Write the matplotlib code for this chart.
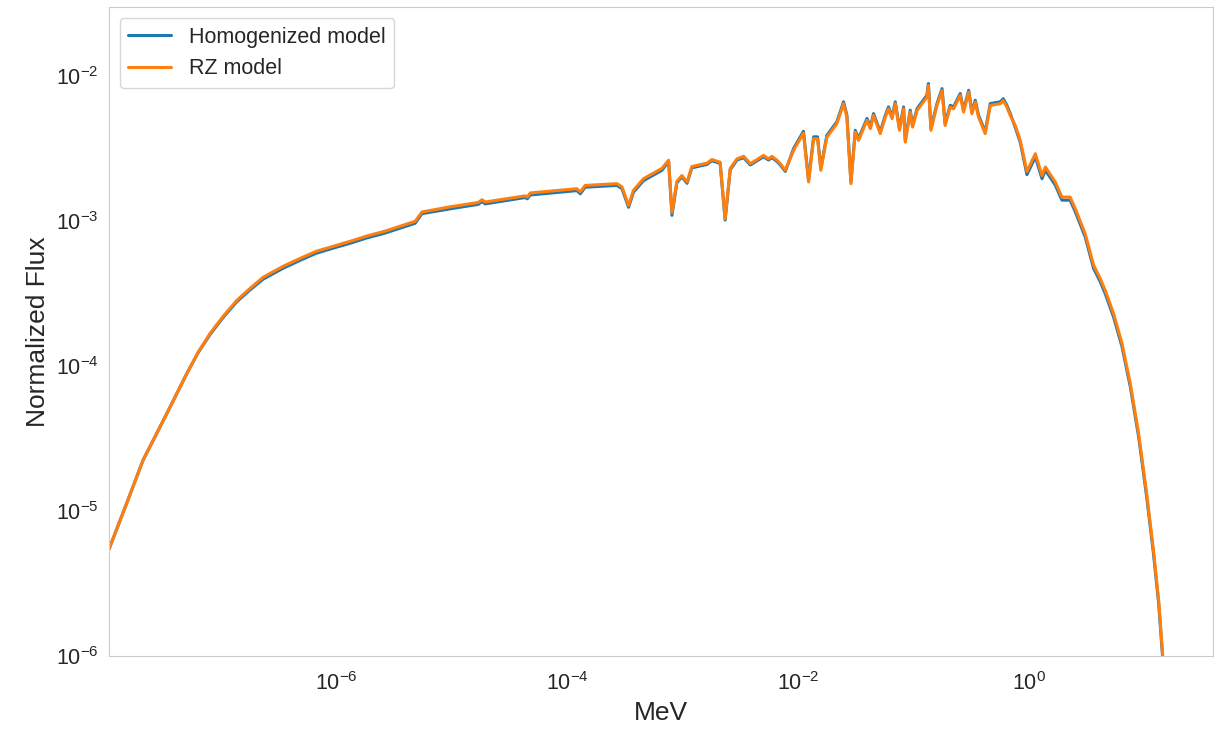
"""Normalized neutron flux spectrum: homogenized vs RZ model."""
import matplotlib
matplotlib.use('Agg')
import matplotlib.pyplot as plt
import seaborn as sns

# energy grid (MeV)
energy = [
    1.08e-8, 1.54e-8, 2.13e-8, 3.43e-8, 5.11e-8, 6.38e-8, 8.11e-8, 1.05e-7, 1.38e-7, 1.80e-7,
    2.33e-7, 3.48e-7, 4.89e-7, 6.71e-7, 9.42e-7, 1.32e-6, 1.86e-6, 2.61e-6, 3.58e-6, 4.83e-6,
    5.52e-6, 9.71e-6, 1.70e-5, 1.83e-5, 1.95e-5, 4.34e-5, 4.51e-5,
    4.79e-5, 1.21e-4, 1.30e-4, 1.43e-4, 2.70e-4, 2.98e-4, 3.40e-4, 3.75e-4, 4.58e-4, 6.61e-4,
    7.55e-4, 8.07e-4, 8.91e-4, 9.84e-4, 1.09e-3, 1.20e-3, 1.62e-3, 1.79e-3, 2.11e-3, 2.33e-3,
    2.58e-3, 2.95e-3, 3.37e-3, 3.85e-3, 5.01e-3, 5.53e-3, 5.92e-3, 6.55e-3, 7.00e-3, 7.73e-3,
    9.12e-3, 1.11e-2, 1.23e-2, 1.36e-2, 1.47e-2, 1.57e-2, 1.77e-2, 2.16e-2, 2.47e-2, 2.64e-2,
    2.86e-2, 3.12e-2, 3.33e-2, 3.94e-2, 4.21e-2, 4.49e-2, 5.13e-2, 5.68e-2, 6.05e-2, 6.49e-2,
    6.92e-2, 7.53e-2, 8.17e-2, 8.45e-2, 9.33e-2, 9.77e-2, 0.107, 0.130, 0.134, 0.141,
    0.159, 0.176, 0.187, 0.207, 0.221, 0.253, 0.270, 0.299, 0.319, 0.341,
    0.364, 0.416, 0.460, 0.561, 0.596, 0.641, 0.685, 0.757, 0.836, 0.955,
    1.13, 1.29, 1.38, 1.68, 1.92, 2.26, 2.51, 3.05, 3.61, 4.12,
    4.55, 5.37, 6.35, 7.50, 8.85, 10.4, 11.9, 13.2, 14.3, 15.3,
    39.0,
]

flux_homog = [
    5.47e-6, 1.14e-5, 2.25e-5, 4.74e-5, 8.95e-5, 1.24e-4, 1.66e-4, 2.17e-4, 2.79e-4, 3.37e-4,
    3.99e-4, 4.75e-4, 5.39e-4, 6.02e-4, 6.53e-4, 7.06e-4, 7.70e-4, 8.27e-4, 8.97e-4, 9.70e-4,
    1.13e-3, 1.22e-3, 1.31e-3, 1.37e-3, 1.32e-3, 1.46e-3, 1.43e-3,
    1.52e-3, 1.63e-3, 1.55e-3, 1.72e-3, 1.77e-3, 1.68e-3, 1.25e-3, 1.59e-3, 1.91e-3, 2.25e-3,
    2.59e-3, 1.10e-3, 1.85e-3, 2.03e-3, 1.83e-3, 2.34e-3, 2.47e-3, 2.62e-3, 2.51e-3, 1.02e-3,
    2.27e-3, 2.65e-3, 2.75e-3, 2.45e-3, 2.79e-3, 2.65e-3, 2.75e-3, 2.59e-3, 2.45e-3, 2.21e-3,
    3.18e-3, 4.18e-3, 1.93e-3, 3.83e-3, 3.83e-3, 2.32e-3, 3.92e-3, 4.86e-3, 6.68e-3, 5.40e-3,
    1.87e-3, 4.25e-3, 3.73e-3, 5.13e-3, 4.49e-3, 5.54e-3, 4.15e-3, 5.40e-3, 6.16e-3, 5.26e-3,
    6.68e-3, 4.38e-3, 6.16e-3, 3.63e-3, 5.85e-3, 4.60e-3, 6.00e-3, 7.41e-3, 8.93e-3, 4.38e-3,
    6.50e-3, 8.24e-3, 4.73e-3, 6.32e-3, 6.16e-3, 7.62e-3, 5.85e-3, 8.03e-3, 5.70e-3, 6.85e-3,
    5.40e-3, 4.15e-3, 6.50e-3, 6.68e-3, 7.02e-3, 6.32e-3, 5.54e-3, 4.45e-3, 3.51e-3, 2.10e-3,
    2.78e-3, 1.97e-3, 2.25e-3, 1.78e-3, 1.40e-3, 1.40e-3, 1.16e-3, 7.81e-4, 4.73e-4, 3.83e-4,
    3.17e-4, 2.19e-4, 1.37e-4, 7.22e-5, 3.27e-5, 1.25e-5, 5.11e-6, 2.31e-6, 9.69e-7, 3.44e-7,
    1.0e-12,
]

flux_rz = [
    5.47e-6, 1.14e-5, 2.25e-5, 4.74e-5, 8.95e-5, 1.25e-4, 1.69e-4, 2.21e-4, 2.85e-4, 3.45e-4,
    4.11e-4, 4.90e-4, 5.56e-4, 6.21e-4, 6.73e-4, 7.28e-4, 7.94e-4, 8.53e-4, 9.25e-4, 1.00e-3,
    1.16e-3, 1.26e-3, 1.35e-3, 1.41e-3, 1.36e-3, 1.50e-3, 1.47e-3,
    1.57e-3, 1.68e-3, 1.60e-3, 1.77e-3, 1.82e-3, 1.73e-3, 1.29e-3, 1.64e-3, 1.97e-3, 2.32e-3,
    2.64e-3, 1.15e-3, 1.89e-3, 2.07e-3, 1.87e-3, 2.39e-3, 2.52e-3, 2.67e-3, 2.56e-3, 1.04e-3,
    2.32e-3, 2.70e-3, 2.81e-3, 2.50e-3, 2.85e-3, 2.70e-3, 2.81e-3, 2.64e-3, 2.50e-3, 2.25e-3,
    3.09e-3, 4.06e-3, 1.87e-3, 3.72e-3, 3.72e-3, 2.25e-3, 3.81e-3, 4.72e-3, 6.49e-3, 5.24e-3,
    1.82e-3, 4.13e-3, 3.62e-3, 4.98e-3, 4.36e-3, 5.38e-3, 4.03e-3, 5.24e-3, 5.98e-3, 5.11e-3,
    6.49e-3, 4.25e-3, 5.98e-3, 3.52e-3, 5.68e-3, 4.47e-3, 5.83e-3, 7.19e-3, 8.67e-3, 4.25e-3,
    6.31e-3, 8.00e-3, 4.59e-3, 6.14e-3, 5.98e-3, 7.40e-3, 5.68e-3, 7.80e-3, 5.53e-3, 6.65e-3,
    5.24e-3, 4.03e-3, 6.31e-3, 6.49e-3, 6.82e-3, 6.14e-3, 5.38e-3, 4.59e-3, 3.62e-3, 2.21e-3,
    2.93e-3, 2.07e-3, 2.37e-3, 1.87e-3, 1.47e-3, 1.47e-3, 1.22e-3, 8.22e-4, 4.98e-4, 4.03e-4,
    3.34e-4, 2.31e-4, 1.44e-4, 7.60e-5, 3.44e-5, 1.32e-5, 5.38e-6, 2.43e-6, 1.02e-6, 3.62e-7,
    1.0e-12,
]

x_ticks = [1e-6, 1e-4, 1e-2, 1e0]

sns.set_style('whitegrid')
plt.rcParams['font.family'] = ['Liberation Sans', 'DejaVu Sans']

fig, ax = plt.subplots(figsize=(12.18, 7.29), dpi=100)
fig.subplots_adjust(left=0.0895, right=0.9959, bottom=0.100, top=0.990)

ax.plot(energy, flux_homog, color='#1f77b4', lw=2.2, label='Homogenized model')
ax.plot(energy, flux_rz, color='#ff7f0e', lw=2.2, label='RZ model')

ax.set_xscale('log')
ax.set_yscale('log')
ax.set_xlim(1.08e-8, 39)
ax.set_ylim(1e-6, 3.0e-2)
ax.set_xticks(x_ticks)
ax.minorticks_off()
ax.grid(False)

ax.set_xlabel('MeV', fontsize=19, labelpad=4)
ax.set_ylabel('Normalized Flux', fontsize=19, labelpad=4)
ax.tick_params(axis='x', labelsize=15.5, pad=8)
ax.tick_params(axis='y', labelsize=15.5, pad=4)
ax.legend(loc='upper left', fontsize=15.5)

fig.savefig('out.png', dpi=100)
